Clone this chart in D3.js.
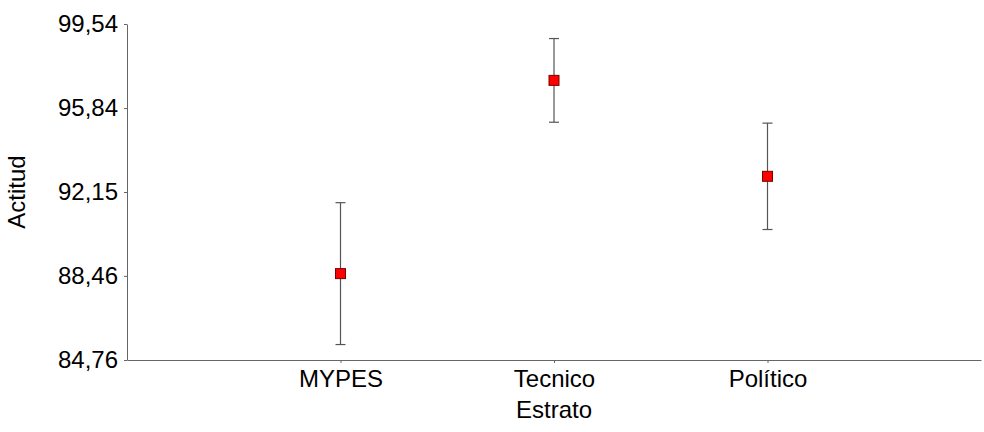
<!DOCTYPE html>
<html><head><meta charset="utf-8">
<script src="https://cdn.jsdelivr.net/npm/d3@7"></script>
<style>body{margin:0;background:#fff;} text{font-family:"Liberation Sans",Arial,sans-serif;}</style>
</head><body>
<svg id="c" width="984" height="432"></svg>
<script>
const categories = ["MYPES", "Tecnico", "Político"];
const means = [88.56, 97.06, 92.84];
const errors = [3.12, 1.84, 2.34];
const yTicks = [84.76, 88.46, 92.15, 95.84, 99.54];
const yTickLabels = ["84,76", "88,46", "92,15", "95,84", "99,54"];

(function(){
const svg = d3.select("#c");
const mL = 127, mR = 981, mT = 24, mB = 360;
const x = d3.scalePoint().domain(["_a", ...categories, "_b"]).range([mL, mR]);
const y = d3.scaleLinear().domain([84.76, 99.54]).range([mB, mT]);

const axisColor = "#666";
const ya = svg.append("g").attr("transform", `translate(${mL},0)`)
  .call(d3.axisLeft(y).tickValues(yTicks).tickFormat((d,i)=>yTickLabels[i]).tickSize(3).tickPadding(6).tickSizeOuter(0));
ya.select(".domain").attr("stroke", axisColor);
ya.selectAll(".tick line").attr("stroke", axisColor);
ya.selectAll("text").attr("font-size", 24).attr("fill", "#000").attr("font-family", "Liberation Sans, Arial, sans-serif");

const xa = svg.append("g").attr("transform", `translate(0,${mB})`)
  .call(d3.axisBottom(x).tickValues(categories).tickSize(3).tickPadding(7).tickSizeOuter(0));
xa.select(".domain").attr("stroke", axisColor);
xa.selectAll(".tick line").attr("stroke", axisColor);
xa.selectAll("text").attr("font-size", 24).attr("fill", "#000").attr("font-family", "Liberation Sans, Arial, sans-serif");

svg.append("text").attr("x", x("Tecnico")).attr("y", 418).attr("text-anchor", "middle")
  .attr("font-size", 24).text("Estrato");
svg.append("text").attr("transform", `translate(25,${(mT+mB)/2}) rotate(-90)`)
  .attr("text-anchor", "middle").attr("font-size", 24).text("Actitud");

const data = categories.map((c,i)=>({c, m: means[i], e: errors[i]}));
const g = svg.append("g");
const errColor = "#555";
g.selectAll(".v").data(data).join("line")
  .attr("x1", d=>x(d.c)).attr("x2", d=>x(d.c))
  .attr("y1", d=>y(d.m+d.e)).attr("y2", d=>y(d.m-d.e))
  .attr("stroke", errColor).attr("stroke-width", 1.2);
g.selectAll(".t").data(data).join("line")
  .attr("x1", d=>x(d.c)-5).attr("x2", d=>x(d.c)+5)
  .attr("y1", d=>y(d.m+d.e)).attr("y2", d=>y(d.m+d.e))
  .attr("stroke", errColor).attr("stroke-width", 1.2);
g.selectAll(".b").data(data).join("line")
  .attr("x1", d=>x(d.c)-5).attr("x2", d=>x(d.c)+5)
  .attr("y1", d=>y(d.m-d.e)).attr("y2", d=>y(d.m-d.e))
  .attr("stroke", errColor).attr("stroke-width", 1.2);
const s = 10;
g.selectAll("rect").data(data).join("rect")
  .attr("x", d=>x(d.c)-s/2).attr("y", d=>y(d.m)-s/2)
  .attr("width", s).attr("height", s)
  .attr("fill", "#ff0000").attr("stroke", "#7a0000").attr("stroke-width", 1);
})();
</script>
</body></html>
